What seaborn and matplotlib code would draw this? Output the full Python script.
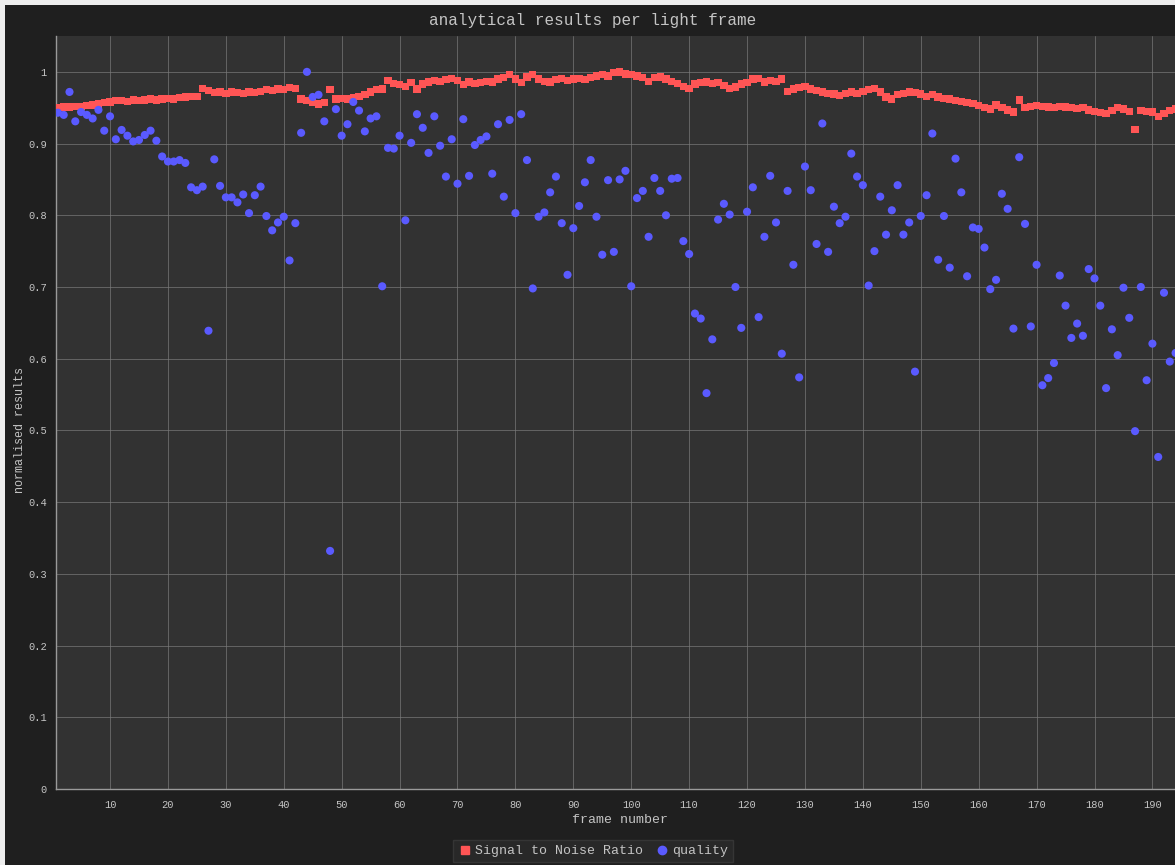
import numpy as np
import pandas as pd
import matplotlib
matplotlib.use("Agg")
import matplotlib.pyplot as plt
from matplotlib.patches import Rectangle
from matplotlib.lines import Line2D
import seaborn as sns

# frame numbers 1..194 (last one is half cut off at the right edge)
frames = list(range(1, 195))

snr = [0.950, 0.951, 0.951, 0.952, 0.952, 0.953, 0.954, 0.955, 0.957, 0.958,
       0.960, 0.960, 0.959, 0.961, 0.960, 0.961, 0.962, 0.961, 0.962, 0.963,
       0.962, 0.964, 0.965, 0.966, 0.966, 0.977, 0.974, 0.971, 0.972, 0.970,
       0.972, 0.971, 0.970, 0.972, 0.971, 0.973, 0.975, 0.974, 0.976, 0.975,
       0.978, 0.977, 0.962, 0.960, 0.958, 0.955, 0.957, 0.975, 0.962, 0.963,
       0.962, 0.964, 0.966, 0.968, 0.972, 0.975, 0.976, 0.988, 0.984, 0.982,
       0.980, 0.985, 0.976, 0.983, 0.986, 0.988, 0.987, 0.989, 0.991, 0.988,
       0.982, 0.986, 0.984, 0.985, 0.987, 0.986, 0.990, 0.992, 0.996, 0.990,
       0.985, 0.993, 0.996, 0.990, 0.987, 0.986, 0.989, 0.991, 0.988, 0.990,
       0.991, 0.989, 0.992, 0.994, 0.996, 0.994, 0.999, 1.000, 0.997, 0.996,
       0.994, 0.992, 0.987, 0.992, 0.993, 0.990, 0.987, 0.984, 0.980, 0.977,
       0.983, 0.985, 0.986, 0.984, 0.985, 0.981, 0.977, 0.979, 0.983, 0.985,
       0.990, 0.991, 0.986, 0.988, 0.987, 0.990, 0.973, 0.976, 0.978, 0.980,
       0.976, 0.974, 0.972, 0.970, 0.969, 0.967, 0.970, 0.972, 0.970, 0.973,
       0.975, 0.977, 0.972, 0.965, 0.962, 0.968, 0.970, 0.972, 0.971, 0.969,
       0.966, 0.968, 0.965, 0.963, 0.962, 0.960, 0.959, 0.957, 0.956, 0.953,
       0.950, 0.948, 0.954, 0.950, 0.947, 0.944, 0.961, 0.950, 0.952, 0.953,
       0.952, 0.951, 0.950, 0.952, 0.951, 0.950, 0.949, 0.950, 0.947, 0.945,
       0.943, 0.942, 0.946, 0.950, 0.948, 0.945, 0.920, 0.946, 0.945, 0.944,
       0.938, 0.942, 0.946, 0.948]

quality = [0.943, 0.940, 0.972, 0.931, 0.944, 0.940, 0.935, 0.947, 0.918, 0.938,
           0.906, 0.919, 0.911, 0.903, 0.905, 0.912, 0.918, 0.904, 0.882, 0.875,
           0.875, 0.877, 0.873, 0.839, 0.835, 0.840, 0.639, 0.878, 0.841, 0.825,
           0.825, 0.818, 0.829, 0.803, 0.828, 0.840, 0.799, 0.779, 0.790, 0.798,
           0.737, 0.789, 0.915, 1.000, 0.965, 0.968, 0.931, 0.332, 0.948, 0.911,
           0.927, 0.958, 0.946, 0.917, 0.935, 0.938, 0.701, 0.894, 0.893, 0.911,
           0.793, 0.901, 0.941, 0.922, 0.887, 0.938, 0.897, 0.854, 0.906, 0.844,
           0.934, 0.855, 0.898, 0.905, 0.910, 0.858, 0.927, 0.826, 0.933, 0.803,
           0.941, 0.877, 0.698, 0.798, 0.804, 0.832, 0.854, 0.789, 0.717, 0.782,
           0.813, 0.846, 0.877, 0.798, 0.745, 0.849, 0.749, 0.850, 0.862, 0.701,
           0.824, 0.834, 0.770, 0.852, 0.834, 0.800, 0.851, 0.852, 0.764, 0.746,
           0.663, 0.656, 0.552, 0.627, 0.794, 0.816, 0.801, 0.700, 0.643, 0.805,
           0.839, 0.658, 0.770, 0.855, 0.790, 0.607, 0.834, 0.731, 0.574, 0.868,
           0.835, 0.760, 0.928, 0.749, 0.812, 0.789, 0.798, 0.886, 0.854, 0.842,
           0.702, 0.750, 0.826, 0.773, 0.807, 0.842, 0.773, 0.790, 0.582, 0.799,
           0.828, 0.914, 0.738, 0.799, 0.727, 0.879, 0.832, 0.715, 0.783, 0.781,
           0.755, 0.697, 0.710, 0.830, 0.809, 0.642, 0.881, 0.788, 0.645, 0.731,
           0.563, 0.573, 0.594, 0.716, 0.674, 0.629, 0.649, 0.632, 0.725, 0.712,
           0.674, 0.559, 0.641, 0.605, 0.699, 0.657, 0.499, 0.700, 0.570, 0.621,
           0.463, 0.692, 0.596, 0.608]

x_ticks = list(range(10, 200, 10))
y_ticks = [0, 0.1, 0.2, 0.3, 0.4, 0.5, 0.6, 0.7, 0.8, 0.9, 1.0]
y_tick_labels = ["0", "0.1", "0.2", "0.3", "0.4", "0.5", "0.6", "0.7", "0.8", "0.9", "1"]

df = pd.DataFrame({"frame": frames, "snr": snr, "quality": quality})

sns.set_style("dark")
plt.rcParams["font.family"] = ["Liberation Mono", "DejaVu Sans Mono"]

red = "#ff5555"
blue = "#5a5aff"
txt = "#c4c4c4"

fig = plt.figure(figsize=(11.75, 8.65), dpi=100, facecolor="#eeeeee")
fig.patches.append(Rectangle((5 / 1175, 0), 1, 1 - 5 / 865, transform=fig.transFigure,
                             facecolor="#1f1f1f", edgecolor="none", zorder=-10))
ax = fig.add_axes([56 / 1175, 76 / 865, 1 - 56 / 1175, (789 - 36) / 865])
ax.set_facecolor("#323232")

sns.scatterplot(data=df, x="frame", y="snr", marker="s", s=28, color=red,
                edgecolor="none", linewidth=0, ax=ax, zorder=3)
sns.scatterplot(data=df, x="frame", y="quality", marker="o", s=34, color=blue,
                edgecolor="none", linewidth=0, ax=ax, zorder=4)

ax.set_xlim(0.67, 193.9)
ax.set_ylim(0, 1.05)
ax.set_xticks(x_ticks)
ax.set_yticks(y_ticks)
ax.set_yticklabels(y_tick_labels)
ax.grid(True, color="#7a7a7a", linewidth=0.6, alpha=0.8)
ax.tick_params(colors=txt, labelsize=7.5, length=3, width=0.6, direction="out")
ax.tick_params(axis="x", pad=5)
for side in ["top", "right"]:
    ax.spines[side].set_visible(False)
for side in ["left", "bottom"]:
    ax.spines[side].set_color("#9a9a9a")
    ax.spines[side].set_linewidth(1.0)

ax.set_xlabel("")
ax.set_ylabel("")
fig.text(620 / 1175, 1 - 820 / 865, "frame number", color=txt, fontsize=9.5,
         ha="center", va="center")
fig.text(20 / 1175, 1 - 430 / 865, "normalised results", color=txt, fontsize=8.5,
         ha="center", va="center", rotation=90)
fig.text(593 / 1175, 1 - 20 / 865, "analytical results per light frame", color=txt,
         fontsize=11.5, ha="center", va="center")

handles = [Line2D([], [], marker="s", linestyle="none", color=red, markersize=6),
           Line2D([], [], marker="o", linestyle="none", color=blue, markersize=6)]
leg = fig.legend(handles, ["Signal to Noise Ratio", "quality"], loc="center",
                 bbox_to_anchor=(593 / 1175, 1 - 851 / 865), ncol=2, fontsize=9.5,
                 frameon=True, facecolor="#2b2b2b", edgecolor="#3a3a3a",
                 handletextpad=0.3, columnspacing=0.9, borderpad=0.4,
                 handlelength=1.0, fancybox=False)
for t in leg.get_texts():
    t.set_color(txt)

fig.savefig("out.png", dpi=100, facecolor=fig.get_facecolor())
